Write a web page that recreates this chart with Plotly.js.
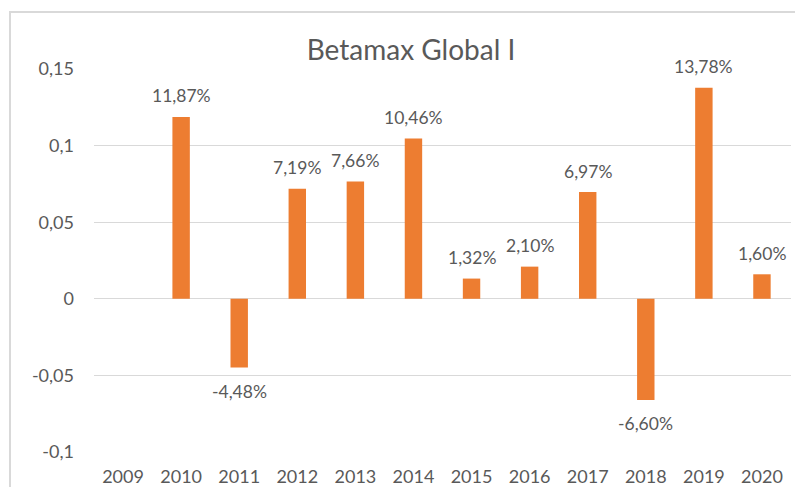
<!DOCTYPE html>
<html>
<head>
<meta charset="utf-8">
<script src="https://cdn.plot.ly/plotly-3.0.1.min.js"></script>
<style>
html,body{margin:0;padding:0;background:#fff;}
#wrap{position:relative;width:795px;height:487px;overflow:hidden;}
#chart{width:795px;height:487px;}
#frame{position:absolute;left:9px;top:11px;width:800px;height:490px;border-left:2px solid #d9d9d9;border-top:2px solid #d9d9d9;pointer-events:none;}
</style>
</head>
<body>
<div id="wrap"><div id="chart"></div><div id="frame"></div></div>
<script>
const years = ['2009','2010','2011','2012','2013','2014','2015','2016','2017','2018','2019','2020'];
const returns = [null, 0.1187, -0.0448, 0.0719, 0.0766, 0.1046, 0.0132, 0.0210, 0.0697, -0.0660, 0.1378, 0.0160];
const labels = ['', '11,87%', '-4,48%', '7,19%', '7,66%', '10,46%', '1,32%', '2,10%', '6,97%', '-6,60%', '13,78%', '1,60%'];
const yTicks = [-0.1, -0.05, 0, 0.05, 0.1, 0.15];
const yTickText = ['-0,1', '-0,05', '0', '0,05', '0,1', '0,15'];

const font = 'Lato, "Open Sans", "Liberation Sans", sans-serif';
const grey = '#595959';

const annotations = [];
years.forEach((y, i) => {
  const v = returns[i];
  if (v === null) return;
  annotations.push({
    x: i, y: v, xref: 'x', yref: 'y',
    text: labels[i], showarrow: false,
    yshift: v >= 0 ? 21 : -24,
    font: {family: font, size: 17.5, color: grey}
  });
});

Plotly.newPlot('chart', [{
  type: 'bar',
  x: years,
  y: returns,
  marker: {color: '#ED7D31'},
  hoverinfo: 'skip'
}], {
  width: 795, height: 487,
  margin: {l: 94, r: 4, t: 69, b: 35},
  paper_bgcolor: '#ffffff', plot_bgcolor: '#ffffff',
  bargap: 0.70,
  showlegend: false,
  title: {
    text: 'Betamax Global I',
    font: {family: font, size: 28, color: grey},
    x: (411 - 94) / 697, xref: 'paper', xanchor: 'center',
    y: 1 - 50/487, yref: 'container', yanchor: 'middle'
  },
  xaxis: {
    type: 'category',
    range: [-0.5, years.length - 0.5],
    tickfont: {family: font, size: 18, color: grey},
    showgrid: false, showline: false, ticks: '',
    zeroline: false, fixedrange: true, automargin: false,
    ticklabelstandoff: 12
  },
  yaxis: {
    range: [-0.1, 0.15],
    tickvals: yTicks, ticktext: yTickText,
    tickfont: {family: font, size: 18, color: grey},
    showgrid: true, gridcolor: '#d9d9d9', gridwidth: 1,
    zeroline: true, zerolinecolor: '#d9d9d9', zerolinewidth: 1,
    showline: false, ticks: '', ticklabelstandoff: 19, fixedrange: true,
    automargin: false
  },
  annotations: annotations
}, {displayModeBar: false, staticPlot: true});
</script>
</body>
</html>
